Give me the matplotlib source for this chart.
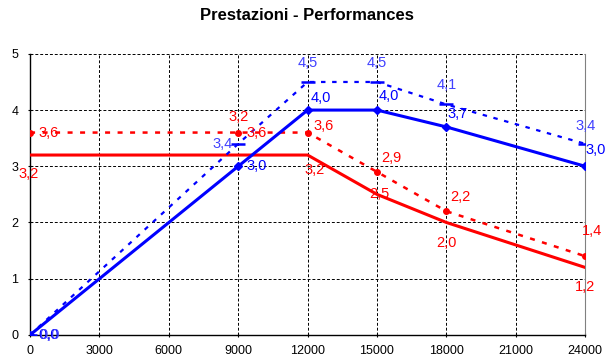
import matplotlib.pyplot as plt

plt.rcParams['font.family'] = ['Liberation Sans', 'DejaVu Sans']

# data
speed = [0, 9000, 12000, 15000, 18000, 24000]
red_solid = [3.2, 3.2, 3.2, 2.5, 2.0, 1.2]
red_dotted = [3.6, 3.6, 3.6, 2.9, 2.2, 1.4]
blue_solid = [0.0, 3.0, 4.0, 4.0, 3.7, 3.0]
blue_dotted = [0.0, 3.4, 4.5, 4.5, 4.1, 3.4]

x_ticks = list(range(0, 24001, 3000))
y_ticks = [0, 1, 2, 3, 4, 5]

RED = '#ff0000'
BLUE = '#0000ff'

fig = plt.figure(figsize=(6.14, 3.64), dpi=100)
ax = fig.add_axes([0.049, 0.080, 0.904, 0.772])

ax.plot(speed, red_dotted, color=RED, lw=1.8, ls=(0, (2, 3)),
        marker='o', ms=4, zorder=3)
ax.plot(speed, red_solid, color=RED, lw=2.2, zorder=3)
ax.plot(speed, blue_dotted, color=BLUE, lw=1.6, ls=(0, (2, 3)),
        marker='_', ms=10, mew=1.8, zorder=3)
ax.plot(speed, blue_solid, color=BLUE, lw=2.2, marker='D', ms=4.5, zorder=3)


def lab(v):
    return f'{v:.1f}'.replace('.', ',')


# label offsets in points (dx, dy, ha)
red_solid_off = [(-1, -14, 'center'), (0, 27, 'center'), (5, -11, 'center'),
                 (2, 0, 'center'), (0, -15, 'center'), (0, -14, 'center')]
red_dotted_off = [(6, 0, 'left'), (6, 0, 'left'), (4, 5, 'left'),
                  (3, 10, 'left'), (3, 10, 'left'), (-2, 18, 'left')]
blue_solid_off = [(6, 0, 'left'), (6, 0, 'left'), (2, 9, 'left'),
                  (1, 10, 'left'), (1, 9, 'left'), (0, 12, 'left')]
blue_dotted_off = [(7, 0, 'left'), (-4, 0, 'right'), (0, 14, 'center'),
                   (0, 14, 'center'), (0, 14, 'center'), (0, 13, 'center')]

for ys, offs, col in [(red_solid, red_solid_off, RED),
                      (red_dotted, red_dotted_off, RED),
                      (blue_solid, blue_solid_off, BLUE),
                      (blue_dotted, blue_dotted_off, '#4040ff')]:
    for xv, yv, (dx, dy, ha) in zip(speed, ys, offs):
        text = lab(yv)
        if ys is red_solid and xv == 9000:
            # this label sits above the dotted marker in the original
            yv = red_dotted[1]
            dy = 11
        ax.annotate(text, (xv, yv), xytext=(dx, dy),
                    textcoords='offset points', ha=ha, va='center',
                    color=col, fontsize=10.5, zorder=4)

ax.set_xlim(0, 24000)
ax.set_ylim(0, 5)
ax.set_xticks(x_ticks)
ax.set_yticks(y_ticks)
ax.tick_params(labelsize=9, length=3, width=0.8, direction='inout')
ax.tick_params(axis='x', pad=6)
ax.tick_params(axis='y', pad=7)
ax.grid(True, color='black', ls=(0, (3, 2)), lw=0.7)
ax.spines['top'].set_visible(False)
ax.spines['right'].set_color('#808080')
for s in ('left', 'bottom'):
    ax.spines[s].set_linewidth(1.0)

fig.suptitle('Prestazioni - Performances', fontsize=12, fontweight='bold', y=0.978)

fig.savefig('out.png', dpi=100)
